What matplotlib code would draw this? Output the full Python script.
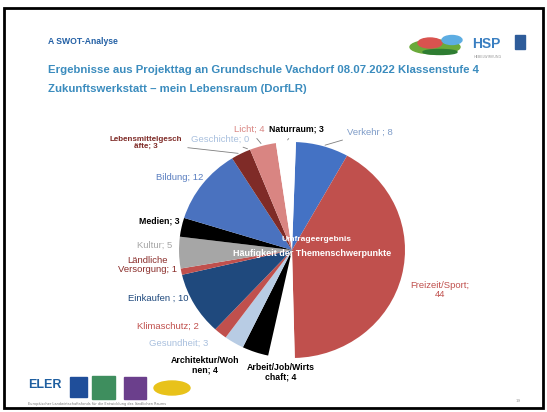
import matplotlib.pyplot as plt
from matplotlib.patches import Rectangle, Ellipse
import numpy as np

W, H = 547, 412

# Daten: Häufigkeit der Themenschwerpunkte (Projekttag Grundschule Vachdorf)
themen = ['Verkehr ', 'Freizeit/Sport', 'Arbeit/Job/Wirts\nchaft', 'Architektur/Woh\nnen',
          'Gesundheit', 'Klimaschutz', 'Einkaufen ', 'Ländliche\nVersorgung', 'Kultur',
          'Medien', 'Bildung', 'Lebensmittelgesch\näfte', 'Geschichte', 'Licht', 'Naturraum']
anzahl = [8, 44, 4, 4, 3, 2, 10, 1, 5, 3, 12, 3, 0, 4, 3]
farben = ['#4472C4', '#C0504D', '#FFFFFF', '#000000', '#B8CCE4', '#C0504D', '#1F497D',
          '#C0504D', '#A6A6A6', '#000000', '#4A72BF', '#7F2B27', '#B8CCE4', '#D98582', '#FFFFFF']
textfarben = ['#7F9CC8', '#C0504D', '#000000', '#000000', '#A9C0DE', '#C0504D', '#1F497D',
              '#8B2E2B', '#A6A6A6', '#000000', '#5A7FC0', '#7F2B27', '#A9C0DE', '#D98582', '#000000']
fett = [False, False, True, True, False, False, False, False, False, True, False, True, False, False, True]

# Lage der Beschriftungen (Pixel)
lab_x = [370, 440, 281, 205, 179, 168, 158, 147, 155, 159, 180, 146, 220, 249, 296]
lab_y = [132, 290, 372, 365, 343, 326, 298, 265, 245, 221, 178, 143, 139, 129, 129]
leader = [True, False, False, False, False, False, False, False, False, False, False, True, True, True, True]

fig = plt.figure(figsize=(W / 100, H / 100), dpi=100)


def fx(x):
    return x / W


def fy(y):
    return 1 - y / H


# Folienrahmen
fig.patches.append(Rectangle((fx(4), fy(408)), fx(539), 400 / H, transform=fig.transFigure,
                             fill=False, edgecolor='black', lw=2))

fig.text(fx(48), fy(41), 'A SWOT-Analyse', fontsize=6.2, fontweight='bold', color='#2360A5',
         family='Liberation Sans', va='center')
fig.text(fx(48), fy(70), 'Ergebnisse aus Projekttag an Grundschule Vachdorf 08.07.2022 Klassenstufe 4',
         fontsize=8.2, fontweight='bold', color='#3B8CBE', family='Liberation Sans', va='center')
fig.text(fx(48), fy(89), 'Zukunftswerkstatt – mein Lebensraum (DorfLR)',
         fontsize=8.2, fontweight='bold', color='#3B8CBE', family='Liberation Sans', va='center')

# Logo oben rechts
for (ex, ey, ew, eh, c) in [(435, 47, 50, 14, '#6AAA3A'), (430, 43, 24, 10, '#D9534F'),
                            (452, 40, 20, 9, '#5DADE2'), (440, 52, 34, 5, '#2E7D32')]:
    fig.patches.append(Ellipse((fx(ex), fy(ey)), ew / W, eh / H, transform=fig.transFigure,
                               color=c))
fig.text(fx(486), fy(44), 'HSP', fontsize=10, fontweight='bold', color='#3A7FC1',
         family='Liberation Sans', ha='center', va='center')
fig.patches.append(Rectangle((fx(515), fy(49)), 10 / W, 14 / H, transform=fig.transFigure,
                             color='#2E5C9A'))
fig.text(fx(488), fy(57), 'HEBELWIRKUNG', fontsize=2.5, color='#999999', ha='center', va='center')

# Kreisdiagramm
cx, cy, rx, ry = 292, 250, 113, 108
ax = fig.add_axes([(cx - rx) / W, (H - cy - ry) / H, 2 * rx / W, 2 * ry / H])
wedges, _ = ax.pie(anzahl, colors=farben, startangle=88, counterclock=False, radius=1,
                   wedgeprops=dict(linewidth=0))
ax.set_aspect('auto')
ax.set_xlim(-1, 1)
ax.set_ylim(-1, 1)
ax.axis('off')

for i, w in enumerate(wedges):
    txt = f'{themen[i]}; {anzahl[i]}'
    if themen[i] == 'Freizeit/Sport':
        txt = f'{themen[i]};\n{anzahl[i]}'
    size = 6.3 if fett[i] else 6.8
    if themen[i].startswith('Lebensmittel'):
        size = 5.8
    kw = dict(fontsize=size, color=textfarben[i],
              fontweight='bold' if fett[i] else 'normal',
              family='Liberation Sans', ha='center', va='center', linespacing=1.1)
    if leader[i]:
        mid = np.deg2rad((w.theta1 + w.theta2) / 2)
        ax.annotate(txt, xy=(np.cos(mid), np.sin(mid)), xycoords='data',
                    xytext=(fx(lab_x[i]), fy(lab_y[i])), textcoords='figure fraction',
                    arrowprops=dict(arrowstyle='-', color='#7F7F7F', lw=0.6),
                    annotation_clip=False, **kw)
    else:
        fig.text(fx(lab_x[i]), fy(lab_y[i]), txt, **kw)

fig.text(fx(316), fy(240), 'Umfrageergebnis', fontsize=6, fontweight='bold', color='white',
         family='Liberation Sans', ha='center', va='center')
fig.text(fx(312), fy(253), 'Häufigkeit der Themenschwerpunkte', fontsize=6.5, fontweight='bold',
         color='white', family='Liberation Sans', ha='center', va='center')

# Logos unten
fig.text(fx(28), fy(385), 'ELER', fontsize=9, fontweight='bold', color='#1F5FA0',
         family='Liberation Sans', va='center')
fig.patches.append(Rectangle((fx(70), fy(397)), 17 / W, 20 / H, transform=fig.transFigure,
                             color='#1F4E9A'))
fig.patches.append(Rectangle((fx(92), fy(399)), 23 / W, 23 / H, transform=fig.transFigure,
                             color='#3E8E5E'))
fig.patches.append(Rectangle((fx(124), fy(399)), 22 / W, 22 / H, transform=fig.transFigure,
                             color='#6B3F8C'))
fig.patches.append(Ellipse((fx(172), fy(388)), 36 / W, 14 / H, transform=fig.transFigure,
                           color='#E8C21A'))
fig.text(fx(28), fy(404), 'Europäischer Landwirtschaftsfonds für die Entwicklung des ländlichen Raums',
         fontsize=2.5, color='#777777', va='center')
fig.text(fx(516), fy(401), '19', fontsize=3, color='#999999', va='center')

fig.savefig('out.png', dpi=100)
